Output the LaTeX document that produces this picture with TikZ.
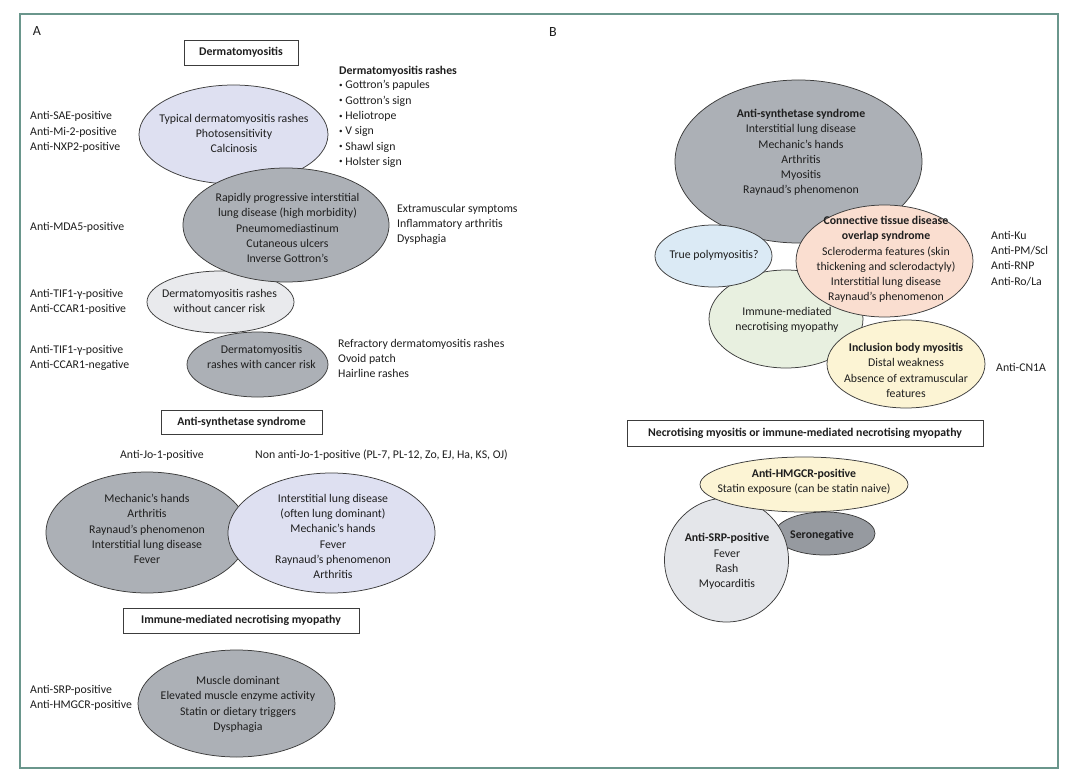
\documentclass[tikz,border=0pt]{standalone}
\usepackage{fontspec}
\setmainfont{Carlito}
\usetikzlibrary{shapes.geometric}
\definecolor{frameC}{RGB}{106,150,140}
\definecolor{lav}{RGB}{222,224,241}
\definecolor{grayE}{RGB}{172,176,182}
\definecolor{lightE}{RGB}{233,234,237}
\definecolor{blueE}{RGB}{219,234,245}
\definecolor{peachE}{RGB}{250,222,208}
\definecolor{greenE}{RGB}{232,240,224}
\definecolor{yellowE}{RGB}{252,244,212}
\definecolor{darkE}{RGB}{150,154,160}
\definecolor{srpE}{RGB}{228,230,234}
\definecolor{txt}{RGB}{30,30,30}
\definecolor{edgeC}{RGB}{60,60,60}
\newcommand{\smbul}{\raisebox{0.25ex}{\scalebox{0.6}{•}}}
\tikzset{
 bubble/.style={ellipse, draw=edgeC, line width=0.75pt, inner sep=0pt},
 ttlbox/.style={draw=edgeC, line width=0.8pt, inner sep=0pt, text=txt, font=\bfseries\fontsize{11.8}{15.3}\selectfont},
 txtc/.style={align=center, inner sep=0pt, text=txt, font=\fontsize{11.8}{15.3}\selectfont},
 txtl/.style={align=left, anchor=west, inner sep=0pt, text=txt, font=\fontsize{11.8}{15.3}\selectfont},
 panel/.style={inner sep=0pt, text=txt, font=\fontsize{14}{16}\selectfont},
}
\begin{document}
\begin{tikzpicture}[x=1pt,y=-1pt]
\useasboundingbox (0,0) rectangle (1080,776);
\fill[white] (0,0) rectangle (1080,776);
\draw[frameC, line width=1.3pt] (20,14) rectangle (1058,768);

% ---------------- Panel A ----------------
\node[panel] (labA) at (37,31) {A};
\node[ttlbox, minimum width=114pt, minimum height=25pt] (boxDM) at (241,52.5) {Dermatomyositis};
\node[txtl, font=\bfseries\fontsize{11.8}{15.3}\selectfont] (rashT) at (339,71) {Dermatomyositis rashes};
\node[txtl] (rashL) at (339,124) {\smbul\ Gottron’s papules\\\smbul\ Gottron’s sign\\\smbul\ Heliotrope\\\smbul\ V sign\\\smbul\ Shawl sign\\\smbul\ Holster sign};
\node[txtl] (abA1) at (30,132) {Anti-SAE-positive\\Anti-Mi-2-positive\\Anti-NXP2-positive};

\node[bubble, fill=lav, minimum width=189pt, minimum height=99pt] (e1) at (233.5,134.5) {};
\node[txtc] (t1) at (234,133.5) {Typical dermatomyositis rashes\\Photosensitivity\\Calcinosis};

\node[bubble, fill=lightE, minimum width=147pt, minimum height=62pt] (e3) at (220.5,302) {};
\node[txtc] (t3) at (219.5,301) {Dermatomyositis rashes\\without cancer risk};

\node[bubble, fill=grayE, minimum width=206pt, minimum height=114pt] (e2) at (286,225) {};
\node[txtc] (t2) at (287.5,228) {Rapidly progressive interstitial\\lung disease (high morbidity)\\Pneumomediastinum\\Cutaneous ulcers\\Inverse Gottron’s};
\node[txtl] (extra) at (397,224.5) {Extramuscular symptoms\\Inflammatory arthritis\\Dysphagia};
\node[txtl] (abA2) at (30,227) {Anti-MDA5-positive};
\node[txtl] (abA3) at (30,302) {Anti-TIF1-γ-positive\\Anti-CCAR1-positive};

\node[bubble, fill=grayE, minimum width=141pt, minimum height=65pt] (e4) at (257.5,364.5) {};
\node[txtc] (t4) at (261.5,357) {Dermatomyositis\\rashes with cancer risk};
\node[txtl] (abA4) at (30,358) {Anti-TIF1-γ-positive\\Anti-CCAR1-negative};
\node[txtl] (refr) at (338,358.5) {Refractory dermatomyositis rashes\\Ovoid patch\\Hairline rashes};

\node[ttlbox, minimum width=161pt, minimum height=24pt] (boxAS) at (241.5,422) {Anti-synthetase syndrome};
\node[txtc] (jo1) at (162,455.5) {Anti-Jo-1-positive};
\node[txtc] (nonjo) at (381.5,455.5) {Non anti-Jo-1-positive (PL-7, PL-12, Zo, EJ, Ha, KS, OJ)};

\node[bubble, fill=grayE, minimum width=202pt, minimum height=121pt] (e5) at (147,532.5) {};
\node[txtc] (t5) at (147,529) {Mechanic’s hands\\Arthritis\\Raynaud’s phenomenon\\Interstitial lung disease\\Fever};
\node[bubble, fill=lav, minimum width=207pt, minimum height=120pt] (e6) at (331.5,533) {};
\node[txtc] (t6) at (333,536.5) {Interstitial lung disease\\(often lung dominant)\\Mechanic’s hands\\Fever\\Raynaud’s phenomenon\\Arthritis};

\node[ttlbox, minimum width=236pt, minimum height=25pt] (boxIM) at (241,620.5) {Immune-mediated necrotising myopathy};
\node[bubble, fill=grayE, minimum width=197pt, minimum height=107pt] (e7) at (236.5,703.5) {};
\node[txtc] (t7) at (238,704.5) {Muscle dominant\\Elevated muscle enzyme activity\\Statin or dietary triggers\\Dysphagia};
\node[txtl] (abA5) at (30,698) {Anti-SRP-positive\\Anti-HMGCR-positive};

% ---------------- Panel B ----------------
\node[panel] (labB) at (553,32) {B};
\node[bubble, fill=grayE, minimum width=247pt, minimum height=163pt] (e8) at (798.5,161.5) {};
\node[txtc] (t8) at (801,152.5) {\textbf{Anti-synthetase syndrome}\\Interstitial lung disease\\Mechanic’s hands\\Arthritis\\Myositis\\Raynaud’s phenomenon};

\node[bubble, fill=greenE, minimum width=154pt, minimum height=98pt] (e10) at (786,319) {};
\node[txtc] (t10) at (787,320) {Immune-mediated\\necrotising myopathy};
\node[bubble, fill=blueE, minimum width=117pt, minimum height=62pt] (e9) at (713.5,256) {};
\node[txtc] (t9) at (714,255.5) {True polymyositis?};
\node[bubble, fill=peachE, minimum width=177pt, minimum height=112pt] (e11) at (884.5,261) {};
\node[txtc] (t11) at (886,259.5) {\textbf{Connective tissue disease}\\\textbf{overlap syndrome}\\Scleroderma features (skin\\thickening and sclerodactyly)\\Interstitial lung disease\\Raynaud’s phenomenon};
\node[bubble, fill=yellowE, minimum width=158pt, minimum height=88pt] (e12) at (906,364) {};
\node[txtc] (t12) at (906,370.5) {\textbf{Inclusion body myositis}\\Distal weakness\\Absence of extramuscular\\features};
\node[txtl] (abB1) at (991,258.5) {Anti-Ku\\Anti-PM/Scl\\Anti-RNP\\Anti-Ro/La};
\node[txtl] (abB2) at (996,367.5) {Anti-CN1A};

\node[ttlbox, minimum width=356pt, minimum height=26pt] (boxNM) at (805,433) {Necrotising myositis or immune-mediated necrotising myopathy};
\node[bubble, fill=darkE, minimum width=100pt, minimum height=43pt] (e13) at (825,533.5) {};
\node[txtc, font=\bfseries\fontsize{11.8}{15.3}\selectfont] (t13) at (822,535.5) {Seronegative};
\node[bubble, circle, fill=srpE, minimum size=124pt] (e14) at (726.5,560) {};
\node[txtc] (t14) at (727,561.5) {\textbf{Anti-SRP-positive}\\Fever\\Rash\\Myocarditis};
\node[bubble, fill=yellowE, minimum width=208pt, minimum height=55pt] (e15) at (804,484.5) {};
\node[txtc] (t15) at (804,481.5) {\textbf{Anti-HMGCR-positive}\\Statin exposure (can be statin naive)};
\end{tikzpicture}
\end{document}
